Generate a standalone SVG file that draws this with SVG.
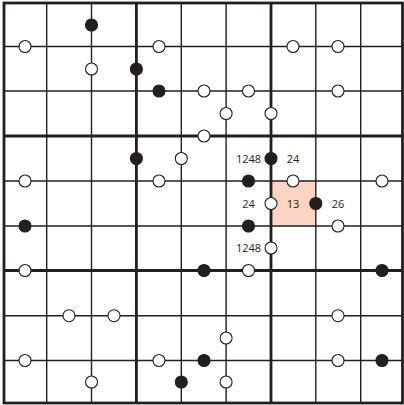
<svg xmlns="http://www.w3.org/2000/svg" width="404" height="405" viewBox="0 0 404 405">
<style>
.thin{stroke:#231f20;stroke-width:1.4;fill:none}
.thick{stroke:#231f20;stroke-width:2.8;fill:none}
.w{fill:#ffffff;stroke:#231f20;stroke-width:1.1}
.b{fill:#231f20;stroke:#231f20;stroke-width:1.1}
.lbl{font-family:"Open Sans","Liberation Sans",sans-serif;font-size:11px;fill:#231f20;text-anchor:middle}
</style>
<rect x="0" y="0" width="404" height="405" fill="#ffffff"/>
<rect id="highlight" x="271" y="181" width="44.8" height="45" fill="#fbd4c3"/>
<g id="grid">
<path class="thin" d="M46.7 3V403M91.5 3V403M181.3 3V403M226.1 3V403M315.8 3V403M360.7 3V403M4 46.5H402.5M4 91H402.5M4 181H402.5M4 226H402.5M4 315.7H402.5M4 360.5H402.5"/>
<path class="thick" d="M136.4 3V403M271 3V403M4 136H402.5M4 270.5H402.5"/>
<rect class="thick" x="4" y="3" width="398.5" height="400"/>
</g>
<g id="dots">
<circle class="b" cx="91.5" cy="25" r="6"/>
<circle class="w" cx="25" cy="46.5" r="6"/>
<circle class="w" cx="159" cy="46.5" r="6"/>
<circle class="w" cx="293" cy="46.5" r="6"/>
<circle class="w" cx="338" cy="46.5" r="6"/>
<circle class="w" cx="91.5" cy="69" r="6"/>
<circle class="b" cx="136.4" cy="69" r="6"/>
<circle class="b" cx="159" cy="91" r="6"/>
<circle class="w" cx="204" cy="91" r="6"/>
<circle class="w" cx="248.5" cy="91" r="6"/>
<circle class="w" cx="338" cy="91" r="6"/>
<circle class="w" cx="226.1" cy="113.5" r="6"/>
<circle class="w" cx="271" cy="113.5" r="6"/>
<circle class="w" cx="204" cy="136" r="6"/>
<circle class="b" cx="136.4" cy="158.5" r="6"/>
<circle class="w" cx="181.3" cy="158.5" r="6"/>
<circle class="b" cx="271" cy="158.5" r="6"/>
<circle class="w" cx="25" cy="181" r="6"/>
<circle class="w" cx="159" cy="181" r="6"/>
<circle class="b" cx="248.5" cy="181" r="6"/>
<circle class="w" cx="293" cy="181" r="6"/>
<circle class="w" cx="382" cy="181" r="6"/>
<circle class="w" cx="271" cy="203.5" r="6"/>
<circle class="b" cx="315.8" cy="203.5" r="6"/>
<circle class="b" cx="25" cy="226" r="6"/>
<circle class="b" cx="248.5" cy="226" r="6"/>
<circle class="w" cx="338" cy="226" r="6"/>
<circle class="w" cx="271" cy="248" r="6"/>
<circle class="w" cx="25" cy="270.5" r="6"/>
<circle class="b" cx="204" cy="270.5" r="6"/>
<circle class="w" cx="248.5" cy="270.5" r="6"/>
<circle class="b" cx="382" cy="270.5" r="6"/>
<circle class="w" cx="69" cy="315.7" r="6"/>
<circle class="w" cx="114" cy="315.7" r="6"/>
<circle class="w" cx="338" cy="315.7" r="6"/>
<circle class="w" cx="226.1" cy="338" r="6"/>
<circle class="w" cx="25" cy="360.5" r="6"/>
<circle class="w" cx="159" cy="360.5" r="6"/>
<circle class="b" cx="204" cy="360.5" r="6"/>
<circle class="w" cx="338" cy="360.5" r="6"/>
<circle class="b" cx="382" cy="360.5" r="6"/>
<circle class="w" cx="91.5" cy="382" r="6"/>
<circle class="b" cx="181.3" cy="382" r="6"/>
<circle class="w" cx="226.1" cy="382" r="6"/>
</g>
<g id="labels">
<text class="lbl" x="248.5" y="162.5">1248</text>
<text class="lbl" x="293" y="162.5">24</text>
<text class="lbl" x="248.5" y="207.5">24</text>
<text class="lbl" x="293" y="207.5">13</text>
<text class="lbl" x="338" y="207.5">26</text>
<text class="lbl" x="248.5" y="252">1248</text>
</g>
</svg>
